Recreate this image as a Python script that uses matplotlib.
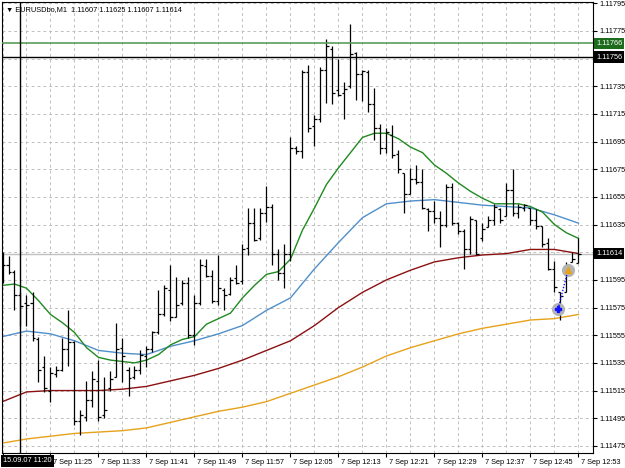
import matplotlib
matplotlib.use('Agg')
import matplotlib.pyplot as plt
import matplotlib.transforms as mtrans
import numpy as np

plt.rcParams['font.family'] = ['Liberation Sans', 'DejaVu Sans']

# ---------------- data (EURUSDbo, M1, 7 Sep 11:17 .. 12:53) ----------------
opens = [1.11600, 1.11606, 1.11601, 1.11584, 1.11578, 1.11578, 1.11552, 1.11532, 1.11515, 1.11527,
         1.11530, 1.11545, 1.11550, 1.11493, 1.11496, 1.11508, 1.11522, 1.11497, 1.11517, 1.11525,
         1.11546, 1.11530, 1.11525, 1.11530, 1.11540, 1.11545, 1.11557, 1.11570, 1.11588, 1.11568,
         1.11578, 1.11593, 1.11555, 1.11578, 1.11605, 1.11598, 1.11580, 1.11588, 1.11585, 1.11596,
         1.11594, 1.11618, 1.11636, 1.11625, 1.11643, 1.11648, 1.11614, 1.11600, 1.11614, 1.11690,
         1.11688, 1.11745, 1.11706, 1.11711, 1.11747, 1.11762, 1.11732, 1.11730, 1.11735, 1.11759,
         1.11744, 1.11745, 1.11722, 1.11705, 1.11690, 1.11700, 1.11686, 1.11672, 1.11657, 1.11668,
         1.11666, 1.11646, 1.11645, 1.11640, 1.11635, 1.11662, 1.11636, 1.11630, 1.11617, 1.11638,
         1.11625, 1.11633, 1.11638, 1.11646, 1.11641, 1.11660, 1.11643, 1.11647, 1.11647, 1.11638,
         1.11634, 1.11622, 1.11603, 1.11586, 1.11586, 1.11608, 1.11607]
highs = [1.11615, 1.11612, 1.11602, 1.11586, 1.11584, 1.11586, 1.11554, 1.11540, 1.11532, 1.11533,
         1.11553, 1.11573, 1.11551, 1.11501, 1.11522, 1.11529, 1.11537, 1.11525, 1.11529, 1.11564,
         1.11553, 1.11532, 1.11533, 1.11544, 1.11547, 1.11558, 1.11588, 1.11591, 1.11606, 1.11597,
         1.11595, 1.11597, 1.11584, 1.11610, 1.11610, 1.11602, 1.11613, 1.11589, 1.11597, 1.11606,
         1.11621, 1.11647, 1.11647, 1.11647, 1.11663, 1.11650, 1.11617, 1.11621, 1.11698, 1.11692,
         1.11747, 1.11750, 1.11714, 1.11749, 1.11769, 1.11764, 1.11755, 1.11738, 1.11780, 1.11760,
         1.11747, 1.11747, 1.11734, 1.11708, 1.11705, 1.11707, 1.11689, 1.11672, 1.11676, 1.11678,
         1.11675, 1.11647, 1.11652, 1.11645, 1.11664, 1.11665, 1.11637, 1.11632, 1.11641, 1.11638,
         1.11636, 1.11641, 1.11650, 1.11647, 1.11665, 1.11675, 1.11650, 1.11650, 1.11647, 1.11646,
         1.11634, 1.11625, 1.11609, 1.11586, 1.11608, 1.11615, 1.11625]
lows = [1.11593, 1.11599, 1.11573, 1.11562, 1.11562, 1.11551, 1.11521, 1.11514, 1.11507, 1.11525,
        1.11529, 1.11533, 1.11490, 1.11483, 1.11493, 1.11503, 1.11493, 1.11495, 1.11515, 1.11525,
        1.11521, 1.11511, 1.11523, 1.11527, 1.11532, 1.11543, 1.11556, 1.11569, 1.11565, 1.11568,
        1.11577, 1.11553, 1.11548, 1.11577, 1.11597, 1.11578, 1.11577, 1.11573, 1.11584, 1.11592,
        1.11592, 1.11613, 1.11623, 1.11624, 1.11637, 1.11606, 1.11595, 1.11589, 1.11609, 1.11686,
        1.11683, 1.11702, 1.11692, 1.11709, 1.11723, 1.11722, 1.11728, 1.11711, 1.11734, 1.11725,
        1.11724, 1.11716, 1.11696, 1.11686, 1.11687, 1.11683, 1.11672, 1.11643, 1.11657, 1.11664,
        1.11646, 1.11630, 1.11636, 1.11619, 1.11633, 1.11635, 1.11628, 1.11603, 1.11614, 1.11613,
        1.11623, 1.11633, 1.11635, 1.11636, 1.11641, 1.11641, 1.11640, 1.11645, 1.11635, 1.11632,
        1.11619, 1.11602, 1.11586, 1.11566, 1.11586, 1.11608, 1.11607]
closes = [1.11606, 1.11601, 1.11584, 1.11576, 1.11577, 1.11553, 1.11530, 1.11517, 1.11528, 1.11530,
          1.11545, 1.11550, 1.11493, 1.11497, 1.11508, 1.11523, 1.11496, 1.11501, 1.11523, 1.11545,
          1.11540, 1.11524, 1.11530, 1.11541, 1.11545, 1.11557, 1.11570, 1.11589, 1.11568, 1.11577,
          1.11593, 1.11555, 1.11578, 1.11606, 1.11598, 1.11580, 1.11589, 1.11584, 1.11595, 1.11593,
          1.11617, 1.11636, 1.11624, 1.11643, 1.11648, 1.11614, 1.11600, 1.11614, 1.11690, 1.11688,
          1.11745, 1.11705, 1.11711, 1.11747, 1.11764, 1.11730, 1.11729, 1.11733, 1.11758, 1.11744,
          1.11746, 1.11722, 1.11705, 1.11690, 1.11702, 1.11685, 1.11675, 1.11657, 1.11668, 1.11666,
          1.11647, 1.11645, 1.11640, 1.11635, 1.11662, 1.11636, 1.11630, 1.11617, 1.11639, 1.11614,
          1.11632, 1.11638, 1.11648, 1.11638, 1.11660, 1.11643, 1.11648, 1.11649, 1.11638, 1.11634,
          1.11621, 1.11603, 1.11590, 1.11583, 1.11605, 1.11610, 1.11614]

# moving averages (bar index -> value)
ma_green_idx = list(range(0, 97, 2))
ma_green = [1.11591, 1.11592, 1.11589, 1.11580, 1.11570, 1.11564, 1.11557, 1.11546, 1.11539, 1.11537,
            1.11536, 1.11535, 1.11537, 1.11541, 1.11548, 1.11552, 1.11554, 1.11563, 1.11567, 1.11571,
            1.11582, 1.11591, 1.11599, 1.11601, 1.11610, 1.11631, 1.11647, 1.11664, 1.11676, 1.11687,
            1.11698, 1.11701, 1.11701, 1.11697, 1.11691, 1.11687, 1.11678, 1.11672, 1.11665, 1.11659,
            1.11654, 1.11650, 1.11650, 1.11650, 1.11648, 1.11644, 1.11635, 1.11629, 1.11625]
ma_slow_idx = list(range(0, 97, 4))
ma_blue = [1.11554, 1.11558, 1.11556, 1.11551, 1.11544, 1.11542, 1.11541, 1.11547, 1.11551, 1.11556,
           1.11562, 1.11573, 1.11582, 1.11603, 1.11622, 1.11640, 1.11650, 1.11652, 1.11653, 1.11651,
           1.11649, 1.11648, 1.11647, 1.11642, 1.11636]
ma_red = [1.11507, 1.11514, 1.11515, 1.11515, 1.11515, 1.11516, 1.11518, 1.11522, 1.11526, 1.11531,
          1.11537, 1.11544, 1.11551, 1.11562, 1.11575, 1.11586, 1.11595, 1.11602, 1.11608, 1.11611,
          1.11613, 1.11614, 1.11617, 1.11617, 1.11614]
ma_orange = [1.11477, 1.11480, 1.11482, 1.11484, 1.11485, 1.11486, 1.11488, 1.11492, 1.11496, 1.11500,
             1.11503, 1.11507, 1.11513, 1.11519, 1.11525, 1.11532, 1.11540, 1.11546, 1.11551, 1.11556,
             1.11560, 1.11563, 1.11566, 1.11567, 1.11570]

time_ticks = list(range(0, 97, 8))
# first label (11:17) is hidden behind the crosshair time box in the reference
time_labels = ["", "7 Sep 11:25", "7 Sep 11:33", "7 Sep 11:41", "7 Sep 11:49",
               "7 Sep 11:57", "7 Sep 12:05", "7 Sep 12:13", "7 Sep 12:21", "7 Sep 12:29",
               "7 Sep 12:37", "7 Sep 12:45", "7 Sep 12:53"]
price_ticks = [1.11475, 1.11495, 1.11515, 1.11535, 1.11555, 1.11575, 1.11595, 1.11615, 1.11635,
               1.11655, 1.11675, 1.11695, 1.11715, 1.11735, 1.11755, 1.11775, 1.11795]
# labels hidden behind the price boxes in the reference
price_labels = ["1.11475", "1.11495", "1.11515", "1.11535", "1.11555", "1.11575", "1.11595", "",
                "1.11635", "1.11655", "1.11675", "1.11695", "1.11715", "1.11735", "", "1.11775",
                "1.11795"]

green_level = 1.11766
cross_price = 1.11756
cross_bar = 3
cross_label = "15.09.07 11:20"
bid = closes[-1]
trade_x = [92.6, 94.25]
trade_y = [1.11574, 1.11602]
symbol = "EURUSDbo,M1"

# ---------------- figure ----------------
W, H = 625, 468
fig = plt.figure(figsize=(W / 100, H / 100), dpi=100)
L, B, AW, AH = 2, 15, 591, 451
ax = fig.add_axes([L / W, B / H, AW / W, AH / H])
x0 = -0.5 / 6
ax.set_xlim(x0, x0 + AW / 6)
ax.set_ylim(1.1146986, 1.1179587)

fs = 5.3
grid_kw = dict(color='#c0c0c0', lw=0.7, ls=(0, (3, 3)))
ax.set_xticks(time_ticks)
ax.set_xticklabels(time_labels)
ax.set_xticks(list(range(0, 97, 4)), minor=True)
ax.set_yticks(price_ticks)
ax.set_yticklabels(price_labels)
ax.grid(True, which='both', axis='x', **grid_kw)
ax.grid(True, which='major', axis='y', **grid_kw)
ax.set_axisbelow(True)
ax.yaxis.tick_right()
ax.tick_params(axis='y', direction='out', length=3, width=0.8, labelsize=fs, pad=1.5)
ax.tick_params(axis='x', direction='out', length=3, width=0.8, labelsize=fs, pad=1.5)
ax.tick_params(axis='x', which='minor', length=0)
offset = mtrans.ScaledTranslation(3 / 100, 0, fig.dpi_scale_trans)
for lbl in ax.get_xticklabels():
    lbl.set_horizontalalignment('left')
    lbl.set_transform(lbl.get_transform() + offset)
for s in ax.spines.values():
    s.set_color('black')
    s.set_linewidth(0.8)

# bid line
ax.axhline(bid, color='#c0c0c0', lw=1.0, zorder=1.5)

# moving averages
ax.plot(ma_slow_idx, ma_orange, color='#e6a21a', lw=1.0, zorder=2)
ax.plot(ma_slow_idx, ma_red, color='#8b1010', lw=1.0, zorder=2)
ax.plot(ma_slow_idx, ma_blue, color='#4f8fca', lw=1.0, zorder=2)
ax.plot(ma_green_idx, ma_green, color='#1f8a1f', lw=1.0, zorder=2)

# OHLC bars
idx = np.arange(len(opens))
bar_kw = dict(color='black', lw=0.9, zorder=3)
ax.vlines(idx, lows, highs, **bar_kw)
ax.hlines(opens, idx - 0.34, idx, **bar_kw)
ax.hlines(closes, idx, idx + 0.34, **bar_kw)

# level lines / crosshair
ax.axhline(green_level, color='#5a9e5a', lw=1.2, zorder=4)
ax.axhline(cross_price, color='black', lw=1.0, zorder=4)
ax.axvline(cross_bar, color='black', lw=1.0, zorder=4)

# trade markers
ax.scatter(trade_x, trade_y, s=90, color='#b4b4b4', zorder=5, linewidths=0)
ax.plot(trade_x, trade_y, ls=(0, (1, 1.2)), color='#1010ff', lw=1.0, zorder=6)
ax.plot(trade_x[0], trade_y[0], marker='P', ms=4, color='#1010ff', zorder=7, ls='none')
ax.plot(trade_x[1], trade_y[1], marker='^', ms=4, color='#e6a21a', zorder=7, ls='none')

# price boxes on the axis
trans = mtrans.blended_transform_factory(ax.transAxes, ax.transData)
for val, fc in [(green_level, '#1d6b1d'), (cross_price, 'black'), (bid, 'black')]:
    ax.text(1.0 + 3 / AW, val, f"{val:.5f}", transform=trans, color='white', fontsize=fs,
            ha='left', va='center', clip_on=False, zorder=10,
            bbox=dict(boxstyle='square,pad=0.3', fc=fc, ec='none'))

# crosshair time box
ax.text(1 / AW, -8 / AH, cross_label, transform=ax.transAxes, color='white', fontsize=fs,
        ha='left', va='center', clip_on=False, zorder=10,
        bbox=dict(boxstyle='square,pad=0.3', fc='black', ec='none'))

# header
ax.text(4 / AW, 1 - 8 / AH,
        f"\u25bc {symbol}  {opens[-1]:.5f} {highs[-1]:.5f} {lows[-1]:.5f} {closes[-1]:.5f}",
        transform=ax.transAxes, fontsize=fs, ha='left', va='center', zorder=10)

fig.savefig('out.png', dpi=100)
